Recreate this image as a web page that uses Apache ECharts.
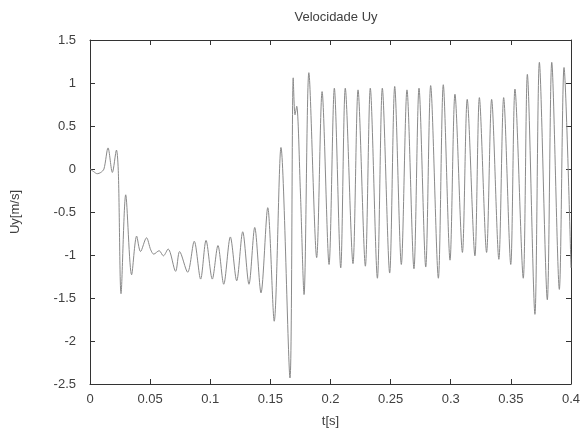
<!DOCTYPE html>
<html>
<head>
<meta charset="utf-8">
<script src="https://cdn.jsdelivr.net/npm/echarts@6/dist/echarts.min.js"></script>
<style>
  html, body { margin: 0; padding: 0; background: #fff; }
  #chart { width: 587px; height: 441px; }
</style>
</head>
<body>
<div id="chart"></div>
<script>
// tiempos (s): maximos y minimos de la señal
var tiempos = [
  0, 0.003, 0.006, 0.009, 0.0116, 0.015, 0.0186, 0.022, 0.0236, 0.0258,
  0.0297, 0.0346, 0.0388, 0.042, 0.047, 0.0505, 0.053, 0.0575, 0.061, 0.065,
  0.0712, 0.0745, 0.0812, 0.0867, 0.092, 0.0965, 0.1017, 0.1064, 0.1112, 0.1167,
  0.122, 0.127, 0.1322, 0.137, 0.1422, 0.1478, 0.1532, 0.1588, 0.1663, 0.169,
  0.1705, 0.1719, 0.175, 0.178, 0.182, 0.1885, 0.193, 0.1988, 0.2032, 0.2085,
  0.2123, 0.2187, 0.2229, 0.229, 0.2331, 0.239, 0.2431, 0.2492, 0.2534, 0.2589,
  0.2636, 0.2694, 0.2736, 0.2792, 0.2833, 0.2897, 0.2938, 0.2994, 0.3035, 0.3097,
  0.3137, 0.3201, 0.3238, 0.3298, 0.334, 0.34, 0.344, 0.3499, 0.3534, 0.3603,
  0.3637, 0.37, 0.3737, 0.3803, 0.384, 0.3903, 0.3942, 0.4
];
// velocidad Uy (m/s)
var uy = [
  0, -0.03, -0.055, -0.04, 0, 0.245, -0.04, 0.22, -0.05, -1.45,
  -0.30, -1.23, -0.78, -0.96, -0.80, -0.94, -0.99, -0.95, -1.01, -0.93,
  -1.19, -0.96, -1.20, -0.84, -1.28, -0.83, -1.28, -0.89, -1.34, -0.79,
  -1.30, -0.73, -1.34, -0.68, -1.44, -0.45, -1.77, 0.25, -2.43, 1.06,
  0.63, 0.73, -0.28, -1.46, 1.12, -1.03, 0.90, -1.11, 0.94, -1.15,
  0.94, -1.10, 0.92, -1.13, 0.94, -1.27, 0.94, -1.21, 0.96, -1.11,
  0.92, -1.16, 0.94, -1.14, 0.97, -1.27, 0.98, -1.06, 0.87, -0.97,
  0.81, -1.01, 0.83, -0.97, 0.81, -1.05, 0.83, -1.11, 0.93, -1.27,
  1.10, -1.69, 1.24, -1.52, 1.24, -1.40, 1.18, -1.15
];
var xTicks = [0, 0.05, 0.1, 0.15, 0.2, 0.25, 0.3, 0.35, 0.4];
var yTicks = [-2.5, -2, -1.5, -1, -0.5, 0, 0.5, 1, 1.5];

var fuente = 'Liberation Sans';
var colorTexto = '#404040';

var datos = [];
for (var i = 0; i < tiempos.length; i++) {
  datos.push([tiempos[i], uy[i]]);
}

// eje sin etiquetas para las marcas de arriba y de la derecha
var ejeEspejo = function (pos, ticks) {
  return {
    type: 'value',
    position: pos,
    min: ticks[0],
    max: ticks[ticks.length - 1],
    interval: ticks[1] - ticks[0],
    axisLine: { show: true, onZero: false, lineStyle: { color: '#333', width: 1 } },
    axisTick: { show: true, inside: true, length: 5, lineStyle: { color: '#333' } },
    axisLabel: { show: false },
    splitLine: { show: false }
  };
};

var chart = echarts.init(document.getElementById('chart'), null, { renderer: 'canvas' });
chart.setOption({
  animation: false,
  backgroundColor: '#fff',
  title: {
    text: 'Velocidade Uy',
    left: 331,
    textAlign: 'center',
    top: 6,
    textStyle: { fontFamily: fuente, fontSize: 13, fontWeight: 'normal', color: colorTexto }
  },
  grid: { left: 90, right: 16, top: 40, bottom: 57 },
  xAxis: [{
    type: 'value',
    position: 'bottom',
    min: xTicks[0],
    max: xTicks[xTicks.length - 1],
    interval: 0.05,
    name: 't[s]',
    nameLocation: 'middle',
    nameGap: 31,
    nameTextStyle: { fontFamily: fuente, fontSize: 13, color: colorTexto },
    axisLine: { show: true, onZero: false, lineStyle: { color: '#333', width: 1 } },
    axisTick: { show: true, inside: true, length: 5, lineStyle: { color: '#333' } },
    axisLabel: { fontFamily: fuente, fontSize: 13, color: colorTexto, margin: 9 },
    splitLine: { show: false }
  }, ejeEspejo('top', xTicks)],
  yAxis: [{
    type: 'value',
    position: 'left',
    min: yTicks[0],
    max: yTicks[yTicks.length - 1],
    interval: 0.5,
    name: 'Uy[m/s]',
    nameLocation: 'middle',
    nameGap: 68,
    nameRotate: 90,
    nameTextStyle: { fontFamily: fuente, fontSize: 13, color: colorTexto },
    axisLine: { show: true, onZero: false, lineStyle: { color: '#333', width: 1 } },
    axisTick: { show: true, inside: true, length: 5, lineStyle: { color: '#333' } },
    axisLabel: { fontFamily: fuente, fontSize: 13, color: colorTexto, margin: 14 },
    splitLine: { show: false }
  }, ejeEspejo('right', yTicks)],
  series: [{
    type: 'line',
    data: datos,
    showSymbol: false,
    smooth: 0.3,
    lineStyle: { color: '#8a8a8a', width: 1 }
  }]
});
</script>
</body>
</html>
